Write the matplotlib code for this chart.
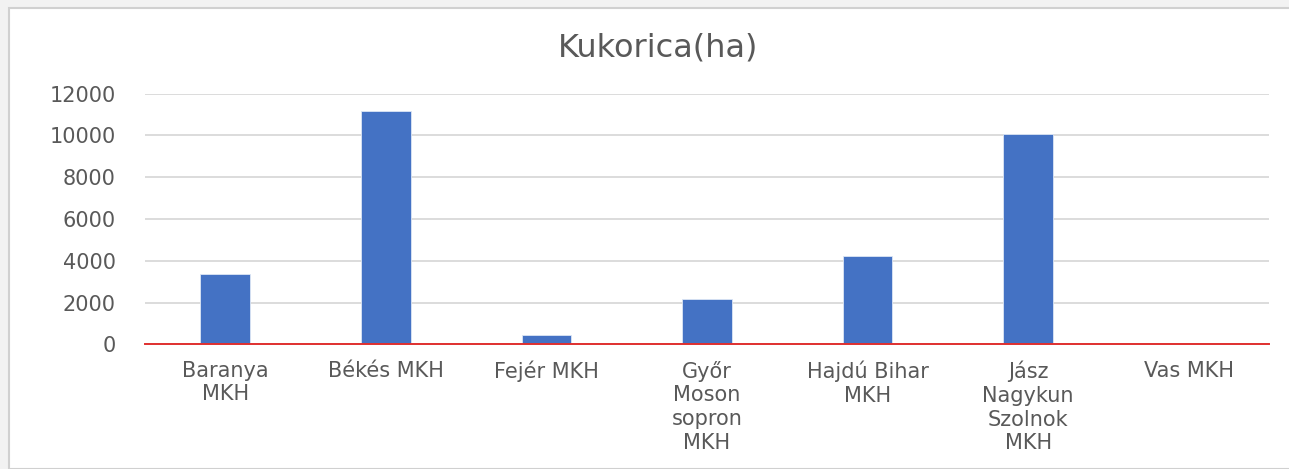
import numpy as np
import matplotlib.pyplot as plt
from matplotlib.patches import Rectangle

categories = ['Baranya\nMKH', 'Békés MKH', 'Fejér MKH', 'Győr\nMoson\nsopron\nMKH',
              'Hajdú Bihar\nMKH', 'Jász\nNagykun\nSzolnok\nMKH', 'Vas MKH']
values = [3350, 11150, 450, 2150, 4250, 10080, 20]
yticks = [0, 2000, 4000, 6000, 8000, 10000, 12000]

TEXT = '#595959'
BAR = '#4472C4'

plt.rcParams['font.family'] = ['DejaVu Sans']

fig = plt.figure(figsize=(12.89, 4.69), dpi=100)
fig.patch.set_facecolor('#f2f2f2')
# white chart area with light border
fig.patches.append(Rectangle((9/1289, 0), 1.0, 1 - 8/469, transform=fig.transFigure,
                             facecolor='white', edgecolor='#d0d0d0', lw=1.5, zorder=-10))

ax = fig.add_axes([145/1289, 124.7/469, 1124/1289, 250.6/469])
ax.set_facecolor('none')
x = np.arange(len(categories))
ax.bar(x, values, width=0.31, color=BAR, edgecolor='#dce6f5', linewidth=0.6, zorder=3)
ax.axhline(0, color='#e0302f', lw=1.4, zorder=5, clip_on=False)

ax.set_xlim(-0.5, len(categories) - 0.5)
ax.set_ylim(0, 12000)
ax.set_yticks(yticks)
ax.set_yticklabels([str(v) for v in yticks], fontsize=15, color=TEXT)
ax.set_xticks(x)
ax.set_xticklabels(categories, fontsize=15, color=TEXT, linespacing=1.22)
ax.tick_params(axis='y', length=0, pad=21)
ax.tick_params(axis='x', length=0, pad=12)
ax.yaxis.grid(True, color='#d9d9d9', lw=1.3, zorder=0)
for s in ax.spines.values():
    s.set_visible(False)

fig.text(658/1289, 1 - 48/469, 'Kukorica(ha)', fontsize=23, color=TEXT,
         ha='center', va='center')

fig.savefig('out.png', dpi=100, facecolor=fig.get_facecolor())
